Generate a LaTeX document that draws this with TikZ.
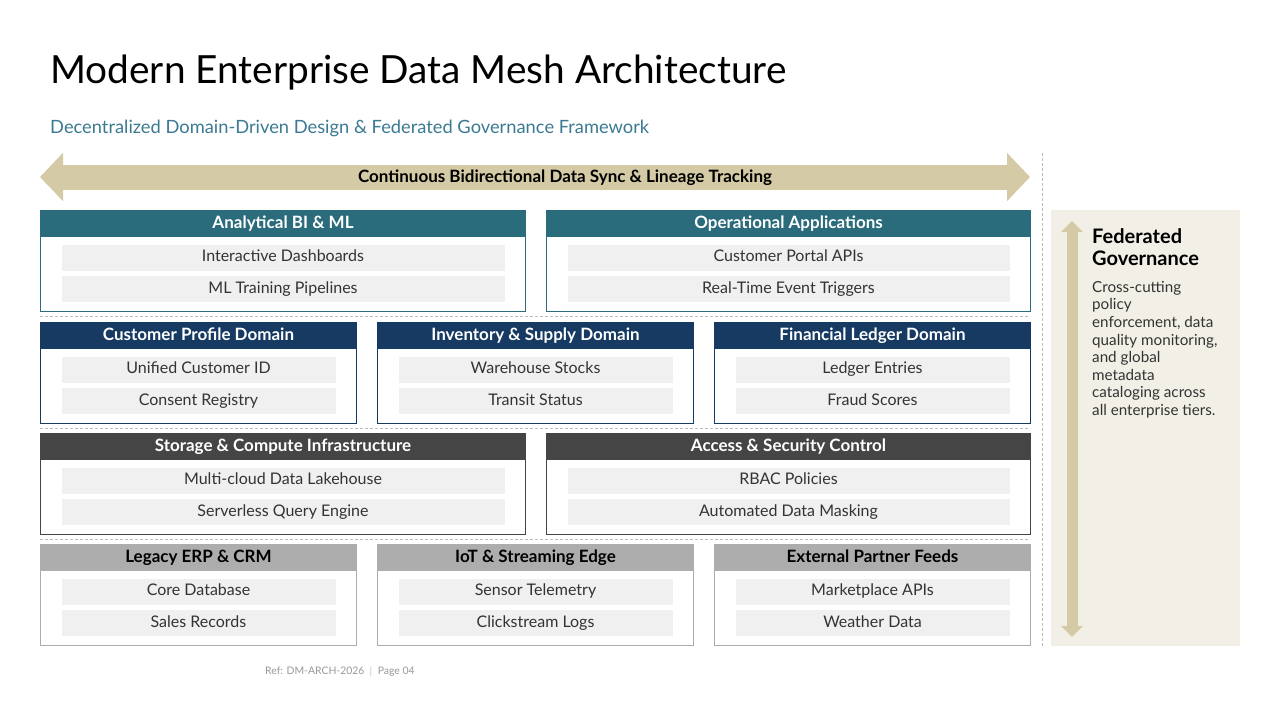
\documentclass[tikz,border=0pt]{standalone}
\usepackage{fontspec}
\setmainfont{Lato}
\usetikzlibrary{arrows.meta, positioning, calc}
\definecolor{tealhd}{HTML}{2A6B7C}
\definecolor{navyhd}{HTML}{173A63}
\definecolor{darkhd}{HTML}{454545}
\definecolor{lighthd}{HTML}{ADADAD}
\definecolor{itemfill}{HTML}{F0F0F0}
\definecolor{itemtext}{HTML}{333333}
\definecolor{tan}{HTML}{D4CAA5}
\definecolor{panel}{HTML}{F2EFE6}
\definecolor{subtl}{HTML}{3B7A93}
\definecolor{sepgray}{HTML}{BBBBBB}
% one domain card: name, x, y, width, colour, header text colour, title, item 1, item 2
\newcommand{\domain}[9]{%
  \node[frame=#5, minimum width=#4pt, anchor=north west] (#1) at (#2,#3) {};
  \node[head=#5, text=#6, minimum width=#4pt, anchor=north] (#1-hd) at (#1.north) {#7};
  \node[item, minimum width=#4pt-42pt, below=7pt of #1-hd] (#1-a) {#8};
  \node[item, minimum width=#4pt-42pt, below=5pt of #1-a] (#1-b) {#9};
}

\begin{document}
\begin{tikzpicture}[
  x=1pt, y=-1pt,
  frame/.style = {rectangle, draw=#1, line width=1pt, minimum height=101pt,
                  inner sep=0pt},
  head/.style  = {rectangle, fill=#1, minimum height=27pt, inner sep=0pt,
                  text height=12pt, text depth=3pt,
                  font=\fontsize{17}{20}\selectfont\bfseries},
  item/.style  = {rectangle, fill=itemfill, minimum height=26pt, inner sep=0pt,
                  text height=11.5pt, text depth=3.5pt,
                  text=itemtext, font=\fontsize{16}{19}\selectfont},
  sep/.style   = {draw=sepgray, line width=0.8pt, dash pattern=on 3pt off 2pt},
  sync/.style  = {draw=tan, line width=25pt,
                  {Triangle[length=23pt,width=47pt]}-{Triangle[length=23pt,width=47pt]}},
  govarr/.style= {draw=tan, line width=11pt,
                  {Triangle[length=11pt,width=21pt]}-{Triangle[length=11pt,width=21pt]}}
]
  \useasboundingbox[fill=white] (0,0) rectangle (1280,720);

  % heading
  \node[anchor=base west, inner sep=0pt, font=\fontsize{38.8}{44}\selectfont]
    (title) at (50,83) {Modern Enterprise Data Mesh Architecture};
  \node[anchor=base west, inner sep=0pt, text=subtl, font=\fontsize{18.3}{21}\selectfont]
    (subtitle) at (50,133) {Decentralized Domain-Driven Design \& Federated Governance Framework};

  % sync arrow
  \coordinate (syncL) at (40,177);
  \coordinate (syncR) at (1030,177);
  \draw[sync] (syncL) -- (syncR);
  \node[font=\fontsize{17}{19}\selectfont\bfseries, text height=12pt, text depth=3pt]
    (synctxt) at (565,178) {Continuous Bidirectional Data Sync \& Lineage Tracking};

  % tiers
  \domain{bi}{40}{210}{485}{tealhd}{white}{Analytical BI \& ML}{Interactive Dashboards}{ML Training Pipelines}
  \domain{ops}{546}{210}{484}{tealhd}{white}{Operational Applications}{Customer Portal APIs}{Real-Time Event Triggers}

  \domain{cust}{40}{322}{316}{navyhd}{white}{Customer Profile Domain}{Unified Customer ID}{Consent Registry}
  \domain{inv}{377}{322}{316}{navyhd}{white}{Inventory \& Supply Domain}{Warehouse Stocks}{Transit Status}
  \domain{fin}{714}{322}{316}{navyhd}{white}{Financial Ledger Domain}{Ledger Entries}{Fraud Scores}

  \domain{stor}{40}{433}{485}{darkhd}{white}{Storage \& Compute Infrastructure}{Multi-cloud Data Lakehouse}{Serverless Query Engine}
  \domain{acc}{546}{433}{484}{darkhd}{white}{Access \& Security Control}{RBAC Policies}{Automated Data Masking}

  \domain{erp}{40}{544}{316}{lighthd}{black}{Legacy ERP \& CRM}{Core Database}{Sales Records}
  \domain{iot}{377}{544}{316}{lighthd}{black}{IoT \& Streaming Edge}{Sensor Telemetry}{Clickstream Logs}
  \domain{ext}{714}{544}{316}{lighthd}{black}{External Partner Feeds}{Marketplace APIs}{Weather Data}

  % tier separators
  \foreach \y in {316,428,539}
    \draw[sep] (40,\y) -- (1030,\y);
  \coordinate (vsepT) at (1042,153);
  \coordinate (vsepB) at (1042,647);
  \draw[sep] (vsepT) -- (vsepB);

  % governance panel
  \node[rectangle, fill=panel, minimum width=189pt, minimum height=436pt,
        inner sep=0pt, anchor=north west] (gov) at (1051,210) {};
  \coordinate (govT) at (1072,221);
  \coordinate (govB) at (1072,637);
  \draw[govarr] (govT) -- (govB);
  \node[anchor=north west, inner sep=0pt, align=left,
        font=\fontsize{20}{22.5}\selectfont\bfseries] (govtitle) at (1092,228)
    {Federated\\Governance};
  \node[anchor=north west, inner sep=0pt, align=left, text=itemtext,
        font=\fontsize{15.2}{17.6}\selectfont] (govtext) at (1092,281)
    {Cross-cutting\\policy\\enforcement, data\\quality monitoring,\\and global\\metadata\\cataloging across\\all enterprise tiers.};

  % footer
  \node[anchor=base west, inner sep=0pt, text=gray!80, font=\fontsize{10.4}{12}\selectfont]
    (footer) at (265,674) {Ref: DM-ARCH-2026 \ $|$ \ Page 04};
\end{tikzpicture}
\end{document}
